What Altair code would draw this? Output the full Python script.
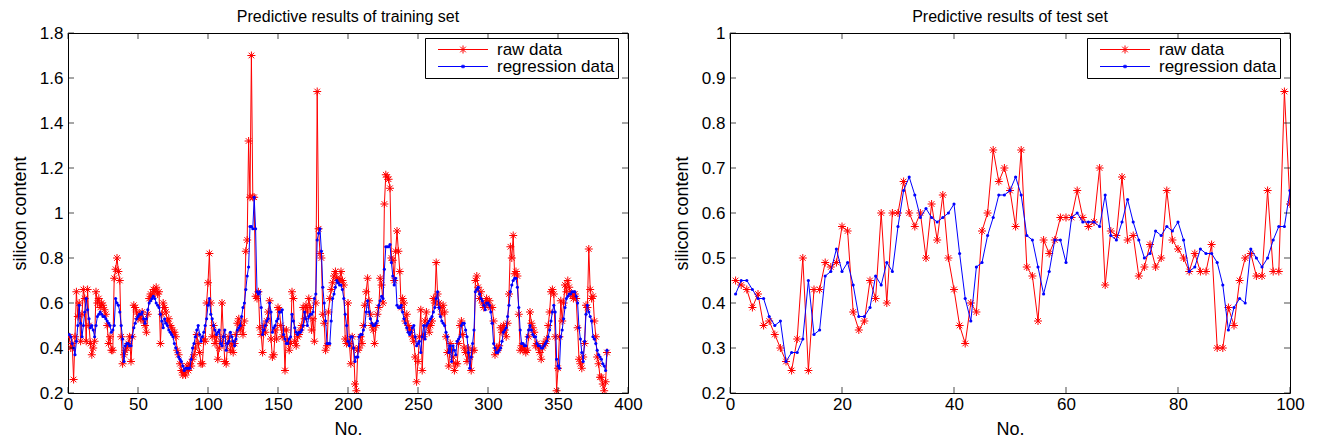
import altair as alt
import pandas as pd

# ---------------- data ----------------
train_raw = [
    0.45, 0.40, 0.42, 0.26, 0.45, 0.65, 0.54, 0.60, 0.43, 0.55,
    0.66, 0.62, 0.43, 0.66, 0.50, 0.42, 0.37, 0.40, 0.43, 0.65,
    0.60, 0.62, 0.58, 0.60, 0.59, 0.57, 0.55, 0.50, 0.42, 0.45,
    0.39, 0.39, 0.71, 0.75, 0.80, 0.74, 0.70, 0.45, 0.33, 0.37,
    0.39, 0.40, 0.42, 0.45, 0.34, 0.45, 0.59, 0.58, 0.56, 0.53,
    0.55, 0.53, 0.56, 0.52, 0.50, 0.47, 0.55, 0.62, 0.64, 0.63,
    0.66, 0.65, 0.67, 0.64, 0.65, 0.42, 0.55, 0.60, 0.58, 0.56,
    0.52, 0.53, 0.50, 0.49, 0.47, 0.47, 0.45, 0.39, 0.37, 0.33,
    0.30, 0.28, 0.29, 0.28, 0.32, 0.30, 0.33, 0.32, 0.35, 0.37,
    0.40, 0.46, 0.42, 0.38, 0.33, 0.33, 0.44, 0.43, 0.60, 0.69,
    0.82, 0.60, 0.45, 0.50, 0.42, 0.45, 0.35, 0.40, 0.43, 0.60,
    0.45, 0.34, 0.33, 0.42, 0.45, 0.39, 0.42, 0.38, 0.42, 0.46,
    0.51, 0.53, 0.48, 0.50, 0.46, 0.52, 0.83, 0.88, 1.32, 1.07,
    1.70, 1.07, 1.07, 0.63, 0.62, 0.65, 0.49, 0.46, 0.38, 0.50,
    0.47, 0.52, 0.56, 0.61, 0.44, 0.36, 0.37, 0.48, 0.44, 0.58,
    0.57, 0.50, 0.45, 0.48, 0.30, 0.48, 0.43, 0.39, 0.42, 0.65,
    0.62, 0.43, 0.41, 0.45, 0.46, 0.48, 0.50, 0.58, 0.53, 0.59,
    0.56, 0.62, 0.58, 0.48, 0.53, 0.43, 0.60, 1.54, 0.93, 0.82,
    0.80, 0.55, 0.51, 0.39, 0.41, 0.56, 0.62, 0.66, 0.69, 0.72,
    0.74, 0.71, 0.70, 0.70, 0.74, 0.70, 0.68, 0.44, 0.42, 0.60,
    0.42, 0.33, 0.45, 0.40, 0.24, 0.21, 0.39, 0.40, 0.45, 0.42,
    0.50, 0.59, 0.65, 0.71, 0.61, 0.55, 0.50, 0.48, 0.42, 0.50,
    0.55, 0.58, 0.71, 0.68, 0.60, 1.04, 1.17, 1.16, 1.15, 1.11,
    0.80, 0.79, 0.70, 0.83, 0.92, 0.83, 0.74, 0.58, 0.62, 0.60,
    0.52, 0.55, 0.50, 0.48, 0.48, 0.45, 0.43, 0.36, 0.25, 0.34,
    0.45, 0.57, 0.30, 0.45, 0.52, 0.56, 0.50, 0.47, 0.50, 0.52,
    0.62, 0.60, 0.78, 0.64, 0.60, 0.58, 0.55, 0.59, 0.56, 0.45,
    0.38, 0.32, 0.42, 0.39, 0.36, 0.30, 0.33, 0.33, 0.42, 0.50,
    0.52, 0.46, 0.40, 0.38, 0.34, 0.40, 0.36, 0.30, 0.39, 0.39,
    0.70, 0.72, 0.67, 0.62, 0.65, 0.60, 0.58, 0.60, 0.62, 0.59,
    0.61, 0.58, 0.58, 0.52, 0.37, 0.40, 0.39, 0.41, 0.49, 0.47,
    0.50, 0.48, 0.45, 0.51, 0.64, 0.85, 0.80, 0.90, 0.73, 0.74,
    0.72, 0.55, 0.39, 0.41, 0.39, 0.40, 0.38, 0.39, 0.45, 0.56,
    0.51, 0.49, 0.47, 0.41, 0.42, 0.40, 0.38, 0.35, 0.40, 0.42,
    0.42, 0.44, 0.50, 0.56, 0.65, 0.66, 0.64, 0.45, 0.21, 0.31,
    0.45, 0.61, 0.52, 0.60, 0.68, 0.65, 0.70, 0.67, 0.64, 0.64,
    0.62, 0.64, 0.62, 0.49, 0.35, 0.33, 0.31, 0.36, 0.42, 0.59,
    0.58, 0.84, 0.66, 0.62, 0.63, 0.52, 0.45, 0.36, 0.33, 0.27,
    0.27, 0.24, 0.21, 0.25, 0.38,
]

train_reg = [
    0.46, 0.45, 0.42, 0.40, 0.37, 0.43, 0.50, 0.59, 0.51, 0.45,
    0.50, 0.56, 0.62, 0.57, 0.53, 0.49, 0.50, 0.48, 0.45, 0.50,
    0.54, 0.55, 0.56, 0.55, 0.54, 0.54, 0.53, 0.52, 0.51, 0.50,
    0.47, 0.48, 0.50, 0.62, 0.60, 0.59, 0.56, 0.50, 0.44, 0.34,
    0.41, 0.42, 0.42, 0.41, 0.41, 0.45, 0.49, 0.51, 0.53, 0.54,
    0.55, 0.55, 0.56, 0.53, 0.51, 0.53, 0.57, 0.60, 0.61, 0.62,
    0.63, 0.62, 0.60, 0.59, 0.58, 0.55, 0.52, 0.49, 0.53, 0.51,
    0.50, 0.48, 0.47, 0.46, 0.45, 0.42, 0.40, 0.38, 0.36, 0.35,
    0.34, 0.32, 0.30, 0.31, 0.31, 0.31, 0.31, 0.35, 0.40, 0.42,
    0.45, 0.48, 0.50, 0.46, 0.43, 0.45, 0.47, 0.50, 0.53, 0.59,
    0.62, 0.55, 0.53, 0.50, 0.48, 0.46, 0.47, 0.48, 0.42, 0.41,
    0.45, 0.48, 0.39, 0.42, 0.43, 0.47, 0.45, 0.43, 0.41, 0.44,
    0.48, 0.49, 0.50, 0.54, 0.58, 0.60, 0.66, 0.72, 0.76, 0.94,
    0.94, 0.93, 1.07, 0.93, 0.65, 0.64, 0.65, 0.58, 0.46, 0.48,
    0.50, 0.52, 0.53, 0.60, 0.56, 0.47, 0.49, 0.50, 0.52, 0.53,
    0.56, 0.56, 0.57, 0.46, 0.44, 0.42, 0.42, 0.44, 0.45, 0.55,
    0.52, 0.49, 0.47, 0.46, 0.47, 0.47, 0.48, 0.50, 0.56, 0.53,
    0.50, 0.54, 0.55, 0.55, 0.56, 0.62, 0.64, 0.88, 0.91, 0.93,
    0.83, 0.67, 0.60, 0.52, 0.42, 0.42, 0.42, 0.52, 0.62, 0.64,
    0.67, 0.70, 0.69, 0.68, 0.68, 0.66, 0.62, 0.55, 0.50, 0.43,
    0.41, 0.45, 0.45, 0.40, 0.34, 0.36, 0.36, 0.45, 0.46, 0.46,
    0.48, 0.50, 0.56, 0.61, 0.56, 0.53, 0.51, 0.50, 0.50, 0.51,
    0.52, 0.59, 0.61, 0.63, 0.62, 0.75, 0.85, 0.85, 0.85, 0.86,
    0.78, 0.72, 0.68, 0.71, 0.59, 0.58, 0.58, 0.59, 0.56, 0.53,
    0.51, 0.49, 0.47, 0.46, 0.47, 0.49, 0.50, 0.45, 0.41, 0.42,
    0.43, 0.38, 0.45, 0.50, 0.44, 0.50, 0.51, 0.52, 0.53, 0.54,
    0.56, 0.58, 0.62, 0.65, 0.58, 0.54, 0.52, 0.51, 0.50, 0.47,
    0.45, 0.38, 0.41, 0.34, 0.41, 0.39, 0.37, 0.43, 0.44, 0.45,
    0.50, 0.51, 0.51, 0.48, 0.45, 0.38, 0.31, 0.36, 0.42, 0.48,
    0.65, 0.66, 0.67, 0.64, 0.62, 0.61, 0.59, 0.57, 0.60, 0.60,
    0.59, 0.56, 0.51, 0.42, 0.40, 0.38, 0.38, 0.39, 0.40, 0.43,
    0.47, 0.48, 0.49, 0.54, 0.59, 0.65, 0.68, 0.70, 0.71, 0.71,
    0.67, 0.58, 0.48, 0.42, 0.42, 0.41, 0.41, 0.45, 0.48, 0.50,
    0.48, 0.46, 0.45, 0.45, 0.42, 0.41, 0.41, 0.40, 0.40, 0.41,
    0.42, 0.43, 0.45, 0.48, 0.52, 0.56, 0.59, 0.56, 0.35, 0.32,
    0.31, 0.45, 0.48, 0.53, 0.58, 0.62, 0.63, 0.64, 0.64, 0.65,
    0.65, 0.65, 0.63, 0.60, 0.49, 0.44, 0.38, 0.34, 0.43, 0.55,
    0.59, 0.56, 0.54, 0.52, 0.45, 0.44, 0.42, 0.39, 0.37, 0.36,
    0.35, 0.33, 0.32, 0.30, 0.39,
]

test_raw = [
    0.45, 0.44, 0.43, 0.39, 0.42, 0.35, 0.36, 0.33, 0.30, 0.27,
    0.25, 0.32, 0.50, 0.25, 0.43, 0.43, 0.49, 0.48, 0.49, 0.57,
    0.56, 0.38, 0.34, 0.36, 0.45, 0.41, 0.60, 0.40, 0.60, 0.60,
    0.67, 0.60, 0.57, 0.60, 0.50, 0.62, 0.54, 0.64, 0.50, 0.43,
    0.35, 0.31, 0.40, 0.38, 0.56, 0.60, 0.74, 0.67, 0.70, 0.65,
    0.57, 0.74, 0.48, 0.46, 0.36, 0.54, 0.51, 0.54, 0.59, 0.59,
    0.59, 0.65, 0.59, 0.57, 0.58, 0.70, 0.44, 0.56, 0.55, 0.68,
    0.54, 0.55, 0.46, 0.48, 0.53, 0.48, 0.50, 0.65, 0.54, 0.52,
    0.50, 0.47, 0.51, 0.47, 0.47, 0.53, 0.30, 0.30, 0.39, 0.35,
    0.45, 0.50, 0.51, 0.46, 0.46, 0.65, 0.47, 0.47, 0.87, 0.62,
]

test_reg = [
    0.42, 0.45, 0.45, 0.43, 0.41, 0.41, 0.37, 0.35, 0.36, 0.27,
    0.29, 0.29, 0.32, 0.45, 0.33, 0.34, 0.46, 0.47, 0.52, 0.47,
    0.49, 0.44, 0.37, 0.37, 0.39, 0.46, 0.44, 0.49, 0.47, 0.57,
    0.65, 0.68, 0.64, 0.59, 0.61, 0.59, 0.58, 0.59, 0.60, 0.62,
    0.51, 0.41, 0.36, 0.48, 0.49, 0.55, 0.59, 0.64, 0.64, 0.65,
    0.68, 0.64, 0.55, 0.54, 0.48, 0.42, 0.47, 0.54, 0.54, 0.49,
    0.59, 0.60, 0.58, 0.58, 0.58, 0.57, 0.64, 0.55, 0.54, 0.58,
    0.63, 0.58, 0.54, 0.50, 0.51, 0.56, 0.55, 0.57, 0.56, 0.58,
    0.54, 0.47, 0.48, 0.52, 0.51, 0.51, 0.49, 0.44, 0.34, 0.39,
    0.41, 0.40, 0.52, 0.50, 0.48, 0.50, 0.54, 0.57, 0.57, 0.65,
]

train_xticks = [0, 50, 100, 150, 200, 250, 300, 350, 400]
train_yticks = [0.2, 0.4, 0.6, 0.8, 1.0, 1.2, 1.4, 1.6, 1.8]
test_xticks = [0, 20, 40, 60, 80, 100]
test_yticks = [0.2, 0.3, 0.4, 0.5, 0.6, 0.7, 0.8, 0.9, 1.0]
series_names = ["raw data", "regression data"]
panel_titles = ["Predictive results of training set", "Predictive results of test set"]
x_title = "No."
y_title = "silicon content"

# ---------------- styling ----------------
FONT = "Liberation Sans"
RED = "#ff0000"
BLUE = "#0000ff"
STAR = "M-1,0L1,0M0,-1L0,1M-0.7,-0.7L0.7,0.7M-0.7,0.7L0.7,-0.7"
# legend glyphs: a line segment with the marker in its middle (units of 6px)
LEG_RAW = ("M0.25,0L8.58,0M3.75,0L5.08,0M4.42,-0.67L4.42,0.67"
           "M3.95,-0.47L4.89,0.47M3.95,0.47L4.89,-0.47")
LEG_REG = "M0.25,0L8.58,0M4.22,-0.2L4.62,-0.2L4.62,0.2L4.22,0.2Z"
TICK = 6


def panel(raw, reg, xdom, ydom, xticks, yticks, title):
    df = pd.DataFrame({"No": list(range(1, len(raw) + 1)), "raw": raw, "reg": reg})
    xs = alt.Scale(domain=xdom, nice=False, zero=False)
    ys = alt.Scale(domain=ydom, nice=False, zero=False)
    xax = alt.Axis(values=xticks, format="d", ticks=False, tickSize=0, domain=False,
                   grid=False, labelPadding=3, titlePadding=8, labelFlush=False)
    yax = alt.Axis(values=yticks, format="~g", ticks=False, tickSize=0, domain=False,
                   grid=False, labelPadding=5, titlePadding=10)

    def X(f):
        return alt.X(f, type="quantitative", scale=xs, axis=xax, title=x_title)

    def Y(f):
        return alt.Y(f, type="quantitative", scale=ys, axis=yax, title=y_title)

    def XD(v):
        return alt.XDatum(v, scale=xs, axis=xax, title=x_title)

    def YD(v):
        return alt.YDatum(v, scale=ys, axis=yax, title=y_title)

    base = alt.Chart(df)
    raw_line = base.mark_line(color=RED, strokeWidth=1, clip=True).encode(x=X("No"), y=Y("raw"))
    raw_pts = base.mark_point(shape=STAR, size=64, filled=False, color=RED, strokeWidth=1,
                              opacity=1, clip=True).encode(x=X("No"), y=Y("raw"))
    reg_line = base.mark_line(color=BLUE, strokeWidth=1, clip=True).encode(x=X("No"), y=Y("reg"))
    reg_pts = base.mark_circle(size=10, color=BLUE, opacity=1, clip=True).encode(x=X("No"), y=Y("reg"))

    xt = pd.DataFrame({"t": xticks})
    yt = pd.DataFrame({"t": yticks})
    tick_b = alt.Chart(xt).mark_tick(orient="vertical", size=TICK, thickness=1, color="black",
                                     yOffset=-TICK / 2).encode(x=X("t"), y=YD(ydom[0]))
    tick_t = alt.Chart(xt).mark_tick(orient="vertical", size=TICK, thickness=1, color="black",
                                     yOffset=TICK / 2).encode(x=X("t"), y=YD(ydom[1]))
    tick_l = alt.Chart(yt).mark_tick(orient="horizontal", size=TICK, thickness=1, color="black",
                                     xOffset=TICK / 2).encode(y=Y("t"), x=XD(xdom[0]))
    tick_r = alt.Chart(yt).mark_tick(orient="horizontal", size=TICK, thickness=1, color="black",
                                     xOffset=-TICK / 2).encode(y=Y("t"), x=XD(xdom[1]))

    leg = alt.Legend(orient="none", legendX=357, legendY=5, title=None, strokeColor="black",
                     fillColor="white", padding=3, labelFontSize=17, labelFont=FONT,
                     labelColor="black", symbolSize=144, symbolStrokeWidth=1,
                     labelOffset=52, rowPadding=-3, cornerRadius=0, symbolOpacity=1,
                     labelLimit=0)
    legend_layer = (
        alt.Chart(pd.DataFrame({"series": series_names}))
        .transform_filter("false")
        .mark_point(filled=False, opacity=1, strokeWidth=1)
        .encode(
            color=alt.Color("series:N", scale=alt.Scale(domain=series_names, range=[RED, BLUE]), legend=leg),
            shape=alt.Shape("series:N", scale=alt.Scale(domain=series_names, range=[LEG_RAW, LEG_REG]), legend=leg),
        )
    )

    return alt.layer(raw_line, raw_pts, reg_line, reg_pts, tick_b, tick_t, tick_l, tick_r,
                     legend_layer).properties(width=560, height=360, title=title)


left = panel(train_raw, train_reg, [0, 400], [0.2, 1.8], train_xticks, train_yticks, panel_titles[0])
right = panel(test_raw, test_reg, [0, 100], [0.2, 1.0], test_xticks, test_yticks, panel_titles[1])

chart = (
    alt.hconcat(left, right, spacing=29)
    .resolve_scale(color="independent", shape="independent")
    .properties(padding={"left": 2, "right": 0, "top": 0, "bottom": 0})
    .configure_view(stroke="black", strokeWidth=1)
    .configure_axis(labelFont=FONT, titleFont=FONT, labelFontSize=17, titleFontSize=18,
                    labelColor="black", titleColor="black", titleFontWeight="normal")
    .configure_title(font=FONT, fontSize=16, fontWeight="normal", color="black",
                     anchor="middle", offset=-1)
)

chart.save("out.html", embed_options={"renderer": "svg", "actions": False})
